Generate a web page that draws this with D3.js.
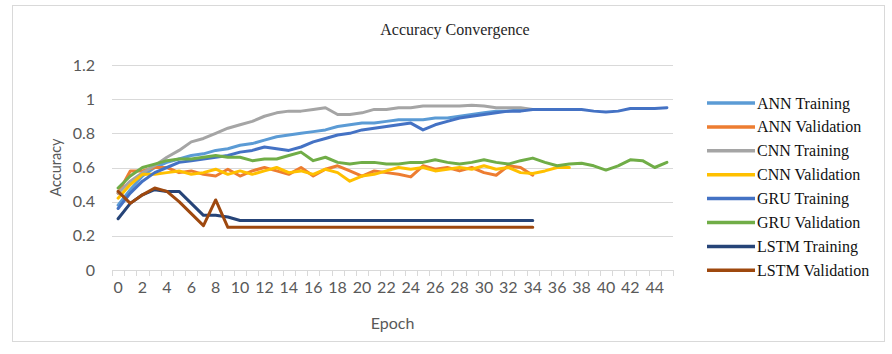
<!DOCTYPE html>
<html>
<head>
<meta charset="utf-8">
<script src="https://cdn.jsdelivr.net/npm/d3@7"></script>
<style>
  html, body { margin: 0; padding: 0; background: #ffffff; }
  svg { display: block; }
</style>
</head>
<body>
<svg id="chart" width="892" height="354"></svg>
<script>
// Epoch categories shown on the x axis (0..45)
const epochs = d3.range(0, 46);
const xTickLabels = d3.range(0, 46, 2);
const yTicks = [0, 0.2, 0.4, 0.6, 0.8, 1, 1.2];

// Accuracy per epoch for each model
const annTraining = [0.38, 0.47, 0.55, 0.60, 0.63, 0.65, 0.67, 0.68, 0.70, 0.71, 0.73, 0.74, 0.76, 0.78, 0.79, 0.80, 0.81, 0.82, 0.84, 0.85, 0.86, 0.86, 0.87, 0.88, 0.88, 0.88, 0.89, 0.89, 0.90, 0.91, 0.92, 0.93, 0.93, 0.94, 0.94];
const annValidation = [0.45, 0.58, 0.58, 0.60, 0.60, 0.57, 0.58, 0.56, 0.55, 0.59, 0.55, 0.58, 0.60, 0.58, 0.56, 0.60, 0.55, 0.59, 0.61, 0.58, 0.55, 0.58, 0.57, 0.56, 0.545, 0.61, 0.59, 0.60, 0.58, 0.60, 0.57, 0.555, 0.61, 0.60, 0.555];
const cnnTraining = [0.45, 0.52, 0.57, 0.61, 0.66, 0.70, 0.75, 0.77, 0.80, 0.83, 0.85, 0.87, 0.90, 0.92, 0.93, 0.93, 0.94, 0.95, 0.91, 0.91, 0.92, 0.94, 0.94, 0.95, 0.95, 0.96, 0.96, 0.96, 0.96, 0.965, 0.96, 0.95, 0.95, 0.95, 0.94, 0.94, 0.94, 0.94];
const cnnValidation = [0.42, 0.50, 0.56, 0.56, 0.57, 0.58, 0.56, 0.57, 0.59, 0.56, 0.58, 0.56, 0.58, 0.60, 0.57, 0.58, 0.56, 0.59, 0.57, 0.52, 0.55, 0.56, 0.58, 0.60, 0.59, 0.60, 0.58, 0.59, 0.60, 0.59, 0.61, 0.59, 0.60, 0.57, 0.565, 0.58, 0.60, 0.60];
const gruTraining = [0.36, 0.45, 0.52, 0.57, 0.60, 0.63, 0.64, 0.65, 0.66, 0.67, 0.69, 0.70, 0.72, 0.71, 0.70, 0.72, 0.75, 0.77, 0.79, 0.80, 0.82, 0.83, 0.84, 0.85, 0.86, 0.82, 0.85, 0.87, 0.89, 0.90, 0.91, 0.92, 0.93, 0.93, 0.94, 0.94, 0.94, 0.94, 0.94, 0.93, 0.925, 0.93, 0.945, 0.945, 0.945, 0.95];
const gruValidation = [0.48, 0.55, 0.60, 0.62, 0.64, 0.65, 0.65, 0.66, 0.67, 0.66, 0.66, 0.64, 0.65, 0.65, 0.67, 0.69, 0.64, 0.66, 0.63, 0.62, 0.63, 0.63, 0.62, 0.62, 0.63, 0.63, 0.645, 0.63, 0.62, 0.63, 0.645, 0.63, 0.62, 0.64, 0.655, 0.63, 0.61, 0.62, 0.625, 0.61, 0.585, 0.61, 0.645, 0.64, 0.60, 0.63];
const lstmTraining = [0.30, 0.39, 0.44, 0.47, 0.46, 0.46, 0.39, 0.32, 0.32, 0.31, 0.29, 0.29, 0.29, 0.29, 0.29, 0.29, 0.29, 0.29, 0.29, 0.29, 0.29, 0.29, 0.29, 0.29, 0.29, 0.29, 0.29, 0.29, 0.29, 0.29, 0.29, 0.29, 0.29, 0.29, 0.29];
const lstmValidation = [0.46, 0.39, 0.44, 0.48, 0.46, 0.40, 0.33, 0.26, 0.41, 0.25, 0.25, 0.25, 0.25, 0.25, 0.25, 0.25, 0.25, 0.25, 0.25, 0.25, 0.25, 0.25, 0.25, 0.25, 0.25, 0.25, 0.25, 0.25, 0.25, 0.25, 0.25, 0.25, 0.25, 0.25, 0.25];

const seriesNames = ["ANN Training", "ANN Validation", "CNN Training", "CNN Validation", "GRU Training", "GRU Validation", "LSTM Training", "LSTM Validation"];
const seriesValues = [annTraining, annValidation, cnnTraining, cnnValidation, gruTraining, gruValidation, lstmTraining, lstmValidation];
const seriesColors = ["#5B9BD5", "#ED7D31", "#A5A5A5", "#FFC000", "#4472C4", "#70AD47", "#264478", "#9E480E"];

const series = seriesNames.map((name, i) => ({ name, color: seriesColors[i], values: seriesValues[i] }));

const svg = d3.select("#chart");
const W = 892, H = 354;
const plot = { left: 112, right: 673, top: 65, bottom: 270 };
const axisFont = "Lato, 'Open Sans', sans-serif";
const serifFont = "'Liberation Serif', 'DejaVu Serif', serif";

// Chart area frame
svg.append("rect")
  .attr("x", 12.5).attr("y", 5.5)
  .attr("width", W - 20).attr("height", H - 18)
  .attr("fill", "#ffffff")
  .attr("stroke", "#d9d9d9").attr("stroke-width", 1);

const x = d3.scaleBand().domain(epochs).range([plot.left, plot.right]).paddingInner(0).paddingOuter(0);
const xc = e => x(e) + x.bandwidth() / 2;
const y = d3.scaleLinear().domain([0, 1.2]).range([plot.bottom, plot.top]);

// Horizontal gridlines
svg.append("g")
  .selectAll("line")
  .data(yTicks.filter(t => t > 0))
  .join("line")
  .attr("x1", plot.left).attr("x2", plot.right)
  .attr("y1", d => Math.round(y(d)) + 0.5).attr("y2", d => Math.round(y(d)) + 0.5)
  .attr("stroke", "#d9d9d9").attr("stroke-width", 1);

// Y axis labels
const yAxis = d3.axisLeft(y).tickValues(yTicks).tickSize(0).tickPadding(0)
  .tickFormat(d => d3.format("~g")(d));
const gy = svg.append("g").attr("transform", `translate(95,0)`).call(yAxis);
gy.select(".domain").remove();
gy.selectAll("text")
  .attr("font-family", axisFont).attr("font-size", 16)
  .attr("fill", "#595959");

// X axis line with category boundary ticks
svg.append("line")
  .attr("x1", plot.left).attr("x2", plot.right)
  .attr("y1", plot.bottom + 0.5).attr("y2", plot.bottom + 0.5)
  .attr("stroke", "#d9d9d9").attr("stroke-width", 1);
svg.append("g")
  .selectAll("line")
  .data(epochs.concat([epochs.length]))
  .join("line")
  .attr("x1", d => Math.round(d < epochs.length ? x(d) : plot.right) + 0.5)
  .attr("x2", d => Math.round(d < epochs.length ? x(d) : plot.right) + 0.5)
  .attr("y1", plot.bottom).attr("y2", plot.bottom + 6)
  .attr("stroke", "#d9d9d9").attr("stroke-width", 1);

// X axis labels (every second epoch)
const xAxis = d3.axisBottom(x).tickValues(xTickLabels).tickSize(0).tickPadding(0);
const gx = svg.append("g").attr("transform", `translate(0,${plot.bottom + 12})`).call(xAxis);
gx.select(".domain").remove();
gx.selectAll("text")
  .attr("font-family", axisFont).attr("font-size", 16)
  .attr("fill", "#595959");

// Series lines
const line = d3.line()
  .x((d, i) => xc(epochs[i]))
  .y(d => y(d));

svg.append("g")
  .selectAll("path")
  .data(series)
  .join("path")
  .attr("d", d => line(d.values))
  .attr("fill", "none")
  .attr("stroke", d => d.color)
  .attr("stroke-width", 3)
  .attr("stroke-linejoin", "round")
  .attr("stroke-linecap", "round");

// Title
svg.append("text")
  .attr("x", 455).attr("y", 35)
  .attr("text-anchor", "middle")
  .attr("font-family", serifFont).attr("font-size", 16)
  .attr("fill", "#262626")
  .text("Accuracy Convergence");

// Axis titles
svg.append("text")
  .attr("x", (plot.left + plot.right) / 2).attr("y", 329)
  .attr("text-anchor", "middle")
  .attr("font-family", axisFont).attr("font-size", 16)
  .attr("fill", "#595959")
  .text("Epoch");

svg.append("text")
  .attr("transform", `translate(61,${(plot.top + plot.bottom) / 2}) rotate(-90)`)
  .attr("text-anchor", "middle")
  .attr("font-family", axisFont).attr("font-size", 14.5)
  .attr("fill", "#595959")
  .text("Accuracy");

// Legend
const legend = svg.append("g")
  .selectAll("g")
  .data(series)
  .join("g")
  .attr("transform", (d, i) => `translate(707,${103 + i * 23.9})`);
legend.append("line")
  .attr("x1", 0).attr("x2", 48)
  .attr("stroke", d => d.color).attr("stroke-width", 3.5);
legend.append("text")
  .attr("x", 50).attr("y", 5.5)
  .attr("font-family", serifFont).attr("font-size", 16)
  .attr("fill", "#111111")
  .text(d => d.name);
</script>
</body>
</html>
